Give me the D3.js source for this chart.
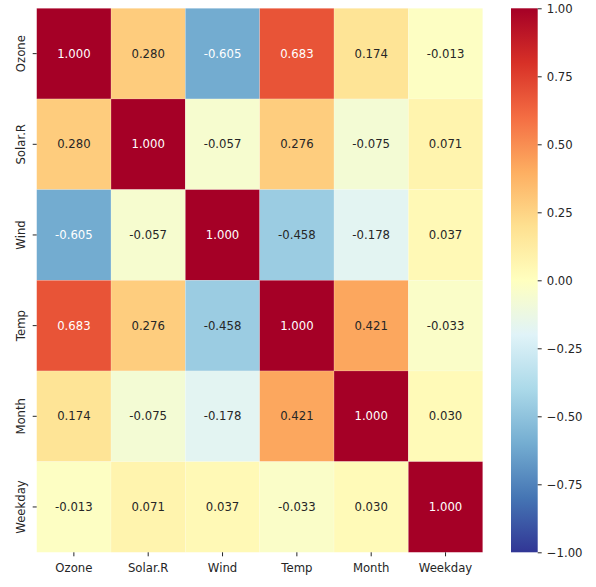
<!doctype html>
<html>
<head>
<meta charset="utf-8">
<style>
  body { margin: 0; background: #fff; }
  text { font-family: "DejaVu Sans", sans-serif; font-size: 11.7px; fill: #262626; }
</style>
</head>
<body>
<script src="https://cdn.jsdelivr.net/npm/d3@7"></script>
<script>
  // data
  var variables = ["Ozone", "Solar.R", "Wind", "Temp", "Month", "Weekday"];
  var ozone   = [1.000, 0.280, -0.605, 0.683, 0.174, -0.013];
  var solarR  = [0.280, 1.000, -0.057, 0.276, -0.075, 0.071];
  var wind    = [-0.605, -0.057, 1.000, -0.458, -0.178, 0.037];
  var temp    = [0.683, 0.276, -0.458, 1.000, 0.421, -0.033];
  var month   = [0.174, -0.075, -0.178, 0.421, 1.000, 0.030];
  var weekday = [-0.013, 0.071, 0.037, -0.033, 0.030, 1.000];
  var rows = [ozone, solarR, wind, temp, month, weekday];
  var colorbarTicks = [-1, -0.75, -0.5, -0.25, 0, 0.25, 0.5, 0.75, 1];

  // RdYlBu_r
  var palette = ["#313695","#4575b4","#74add1","#abd9e9","#e0f3f8","#ffffbf",
                 "#fee090","#fdae61","#f46d43","#d73027","#a50026"];
  var color = d3.scaleLinear()
                .domain(d3.range(11).map(function(i){ return -1 + i*0.2; }))
                .range(palette)
                .interpolate(d3.interpolateRgb)
                .clamp(true);

  var width = 596, height = 587;
  var plot = { left: 36.7, top: 8.3, right: 482.7, bottom: 552.3 };
  var cbar = { left: 511, right: 537.7 };

  var svg = d3.select("body").append("svg").attr("width", width).attr("height", height);

  var x = d3.scaleBand().domain(variables).range([plot.left, plot.right]);
  var y = d3.scaleBand().domain(variables).range([plot.top, plot.bottom]);

  var cells = [];
  rows.forEach(function(r, i){
    r.forEach(function(v, j){
      cells.push({ row: variables[i], col: variables[j], value: v });
    });
  });

  function luminance(c){
    var rgb = d3.rgb(c);
    var ch = [rgb.r, rgb.g, rgb.b].map(function(v){
      v = v / 255;
      return v <= 0.03928 ? v / 12.92 : Math.pow((v + 0.055) / 1.055, 2.4);
    });
    return 0.2126*ch[0] + 0.7152*ch[1] + 0.0722*ch[2];
  }

  svg.append("g").selectAll("rect")
      .data(cells).enter()
      .append("rect")
      .attr("x", function(d){ return x(d.col); })
      .attr("y", function(d){ return y(d.row); })
      .attr("width", x.bandwidth())
      .attr("height", y.bandwidth())
      .attr("fill", function(d){ return color(d.value); })
      .attr("stroke", "#fff")
      .attr("stroke-opacity", 0.25)
      .attr("stroke-width", 0.6);

  svg.append("g").selectAll("text")
      .data(cells).enter()
      .append("text")
      .attr("x", function(d){ return x(d.col) + x.bandwidth()/2; })
      .attr("y", function(d){ return y(d.row) + y.bandwidth()/2; })
      .attr("dy", "0.35em")
      .attr("text-anchor", "middle")
      .style("fill", function(d){ return luminance(color(d.value)) > 0.408 ? "#262626" : "#ffffff"; })
      .text(function(d){ return d.value.toFixed(3); });

  // axes
  var xAxis = svg.append("g")
      .attr("transform", "translate(0," + plot.bottom + ")")
      .call(d3.axisBottom(x).tickSize(4).tickPadding(5));
  xAxis.select(".domain").remove();
  xAxis.selectAll("line").attr("stroke", "#262626");
  xAxis.selectAll("text").attr("font-size", null).attr("font-family", null)
      .attr("dy", null).attr("y", 19.5);

  var yAxis = svg.append("g")
      .attr("transform", "translate(" + plot.left + ",0)")
      .call(d3.axisLeft(y).tickSize(4));
  yAxis.select(".domain").remove();
  yAxis.selectAll("line").attr("stroke", "#262626");
  yAxis.selectAll("text").attr("font-size", null).attr("font-family", null)
      .attr("x", null).attr("dy", null)
      .attr("text-anchor", "middle")
      .attr("transform", "translate(-11.5,0) rotate(-90)");

  // colorbar
  var cy = d3.scaleLinear().domain([-1, 1]).range([plot.bottom, plot.top]);
  var grad = svg.append("defs").append("linearGradient")
      .attr("id", "cbar").attr("x1", 0).attr("y1", 1).attr("x2", 0).attr("y2", 0);
  grad.selectAll("stop")
      .data(palette).enter()
      .append("stop")
      .attr("offset", function(d, i){ return i / 10; })
      .attr("stop-color", function(d){ return d; });

  svg.append("rect")
      .attr("x", cbar.left)
      .attr("y", plot.top)
      .attr("width", cbar.right - cbar.left)
      .attr("height", plot.bottom - plot.top)
      .attr("fill", "url(#cbar)");

  var cAxis = svg.append("g")
      .attr("transform", "translate(" + cbar.right + ",0)")
      .call(d3.axisRight(cy).tickValues(colorbarTicks).tickSize(4).tickPadding(5)
            .tickFormat(function(d){ return d3.format(".2f")(d).replace("-", "\u2212"); }));
  cAxis.select(".domain").remove();
  cAxis.selectAll("line").attr("stroke", "#262626");
  cAxis.selectAll("text").attr("font-size", null).attr("font-family", null);
</script>
</body>
</html>
